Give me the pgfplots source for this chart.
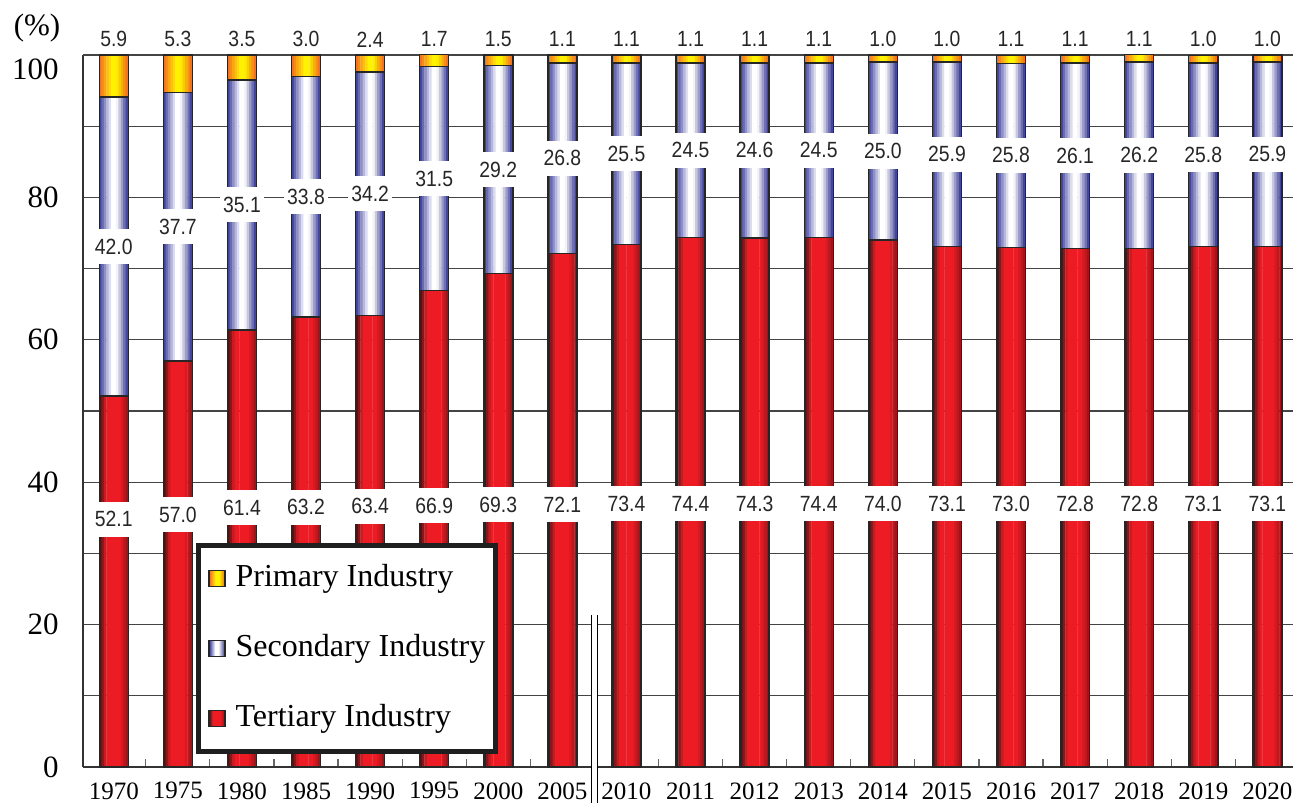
\documentclass[border=0pt]{standalone}
\usepackage{fontspec}
\setmainfont{Liberation Serif}
\newfontfamily\numfont[FakeStretch=0.88]{Liberation Sans}
\usepackage{pgfplots}
\pgfplotsset{compat=1.18}
\usepackage{pgfplotstable}

\definecolor{barred}{HTML}{ED1C24}
\definecolor{reddark}{HTML}{3A1212}
\definecolor{navy}{HTML}{2E3192}
\definecolor{orng}{HTML}{F26522}
\definecolor{yllw}{HTML}{FFF200}
\definecolor{gridc}{HTML}{444444}

\pgfdeclarehorizontalshading{tertshade}{100bp}{color(0bp)=(reddark); color(25bp)=(reddark); color(36bp)=(barred); color(60bp)=(barred); color(75bp)=(reddark!60!barred); color(100bp)=(reddark!60!barred)}
\pgfdeclarehorizontalshading{secshade}{100bp}{color(0bp)=(navy); color(25bp)=(navy); color(44bp)=(white); color(54bp)=(white); color(75bp)=(navy); color(100bp)=(navy)}
\pgfdeclarehorizontalshading{primshade}{100bp}{color(0bp)=(orng); color(25bp)=(orng); color(45bp)=(yllw); color(56bp)=(yllw); color(75bp)=(orng); color(100bp)=(orng)}

\pgfplotstableread{
x  t    s    p   ty   sy    py
0  52.1 42.0 5.9 34.8 73.1  102.2
1  57.0 37.7 5.3 35.4 75.85 102.2
2  61.4 35.1 3.5 36.4 78.95 102.2
3  63.2 33.8 3.0 36.5 80.1  102.2
4  63.4 34.2 2.4 36.6 80.5  102.2
5  66.9 31.5 1.7 36.7 82.65 102.2
6  69.3 29.2 1.5 36.8 83.9  102.2
7  72.1 26.8 1.1 36.8 85.5  102.2
8  73.4 25.5 1.1 37.0 86.15 102.2
9  74.4 24.5 1.1 37.0 86.65 102.2
10 74.3 24.6 1.1 37.0 86.6  102.2
11 74.4 24.5 1.1 37.0 86.65 102.2
12 74.0 25.0 1.0 37.0 86.5  102.2
13 73.1 25.9 1.0 37.0 86.05 102.2
14 73.0 25.8 1.1 37.0 85.9  102.2
15 72.8 26.1 1.1 37.0 85.85 102.2
16 72.8 26.2 1.1 37.0 85.9  102.2
17 73.1 25.8 1.0 37.0 86.0  102.2
18 73.1 25.9 1.0 37.0 86.05 102.2
}\data

\pgfplotsset{
  base/.style={at={(0,0)}, anchor=south west, scale only axis, width=605pt, height=356pt,
    xmin=-0.48, xmax=18.4, ymin=0, ymax=100, clip=false},
  stripeaxis/.style={base, hide axis, ybar stacked, bar width=1.4pt},
}
% one vertical stripe of every bar: shift, tertiary colour, secondary colour, primary colour
\newcommand\stripe[4]{%
\begin{axis}[stripeaxis, bar shift=#1pt]
\addplot[fill=#2, draw=none] table[x=x, y=t]{\data};
\addplot[fill=#3, draw=none] table[x=x, y=s]{\data};
\addplot[fill=#4, draw=none] table[x=x, y=p]{\data};
\end{axis}}

\begin{document}
\begin{tikzpicture}
\useasboundingbox (-41.5pt,-18pt) rectangle (605pt,383.5pt);
% background: axes, grid, ticks
\begin{axis}[
  base,
  axis x line*=bottom, axis y line*=left,
  axis line style={draw=black!80, line width=0.7pt},
  xtick={0,...,18},
  xticklabels={1970,1975,1980,1985,1990,1995,2000,2005,2010,2011,2012,2013,2014,2015,2016,2017,2018,2019,2020},
  major x tick style={draw=none},
  minor xtick={0.5,1.5,2.5,3.5,4.5,5.5,6.5,8.5,9.5,10.5,11.5,12.5,13.5,14.5,15.5,16.5,17.5},
  minor x tick style={draw=black!60, line width=0.6pt},
  minor tick length=4pt,
  tick align=inside,
  ytick={0,20,40,60,80},
  yticklabels={0,20,40,60,80},
  minor ytick={10,30,50,70,90},
  ymajorgrids, yminorgrids,
  major grid style={draw=gridc, line width=0.6pt},
  minor grid style={draw=gridc, line width=0.6pt},
  y tick style={draw=none},
  extra y ticks={100},
  extra y tick labels={100},
  extra y tick style={grid style={draw=black!10, line width=0.5pt}, yticklabel style={yshift=-7pt}},
  yticklabel style={font=\rmfamily\fontsize{15.5}{15.5}\selectfont, anchor=east, inner sep=0pt, xshift=-12pt},
  xticklabel style={font=\rmfamily\fontsize{12.5}{12.5}\selectfont, anchor=north, inner sep=0pt, yshift=-7.5pt},
]
\addplot[draw=none, forget plot] coordinates {(0,0)};
\node[font=\rmfamily\fontsize{15.5}{15.5}\selectfont] at ([xshift=-23pt,yshift=13.5pt]rel axis cs:0,1) {(\%)};
\end{axis}
% bars, drawn as 12 vertical colour stripes
\stripe{-6.646}{barred!12!reddark}{white!9!navy}{yllw!9!orng}
\stripe{-5.438}{barred!45!reddark}{white!28!navy}{yllw!28!orng}
\stripe{-4.229}{barred!80!reddark}{white!46!navy}{yllw!46!orng}
\stripe{-3.021}{barred}{white!65!navy}{yllw!65!orng}
\stripe{-1.813}{barred}{white!83!navy}{yllw!83!orng}
\stripe{-0.604}{barred}{white}{yllw}
\stripe{0.604}{barred}{white}{yllw}
\stripe{1.813}{barred}{white!94!navy}{yllw!94!orng}
\stripe{3.021}{barred}{white!73!navy}{yllw!73!orng}
\stripe{4.229}{barred!86!reddark}{white!52!navy}{yllw!52!orng}
\stripe{5.438}{barred!72!reddark}{white!31!navy}{yllw!31!orng}
\stripe{6.646}{barred!55!reddark}{white!10!navy}{yllw!10!orng}
% outlines, legend, break mark
\begin{axis}[
  base, hide axis,
  ybar stacked, bar width=14.5pt,
  legend cell align=left,
  legend image code/.code={\draw[#1, line width=0.6pt, draw=black!85] (0pt,-4pt) rectangle (8pt,4pt);},
  legend style={at={(0.0934,0.3146)}, anchor=north west, draw=black!88, line width=2.4pt, fill=white,
    inner xsep=5pt, inner ysep=9pt, row sep=20pt, font=\rmfamily\fontsize{16}{16}\selectfont,
    nodes={inner sep=0pt, text height=11.5pt, text depth=3.5pt},
    /tikz/every odd column/.append style={column sep=5pt}},
]
\addplot[ybar, draw=black!85, line width=0.7pt, fill=none, forget plot] table[x=x, y=t]{\data};
\addplot[ybar, draw=black!85, line width=0.7pt, fill=none, forget plot] table[x=x, y=s]{\data};
\addplot[ybar, draw=black!85, line width=0.7pt, fill=none, forget plot] table[x=x, y=p]{\data};
\addlegendimage{shading=primshade}
\addlegendentry{Primary Industry}
\addlegendimage{shading=secshade}
\addlegendentry{Secondary Industry}
\addlegendimage{shading=tertshade}
\addlegendentry{Tertiary Industry}
\fill[white] ([xshift=-1.25pt]axis cs:7.5,21.3) rectangle ([xshift=1.25pt]axis cs:7.5,-5);
\draw[black, line width=0.7pt] ([xshift=-1.25pt]axis cs:7.5,21.3) -- ([xshift=-1.25pt]axis cs:7.5,-5);
\draw[black, line width=0.7pt] ([xshift=1.25pt]axis cs:7.5,21.3) -- ([xshift=1.25pt]axis cs:7.5,-5);
\end{axis}
% value labels
\begin{axis}[
  base, hide axis,
  every node near coord/.style={fill=white, inner xsep=1.5pt, inner ysep=0pt, minimum height=17.5pt, anchor=center,
    font=\numfont\fontsize{11}{11}\selectfont, text=black!85},
  nodes near coords align={center},
]
\addplot[only marks, mark=none, nodes near coords, point meta=explicit symbolic] table[x=x, y=ty, meta=t]{\data};
\addplot[only marks, mark=none, nodes near coords, point meta=explicit symbolic] table[x=x, y=sy, meta=s]{\data};
\addplot[only marks, mark=none, nodes near coords, point meta=explicit symbolic, every node near coord/.append style={fill=none}] table[x=x, y=py, meta=p]{\data};
\end{axis}
\end{tikzpicture}
\end{document}
